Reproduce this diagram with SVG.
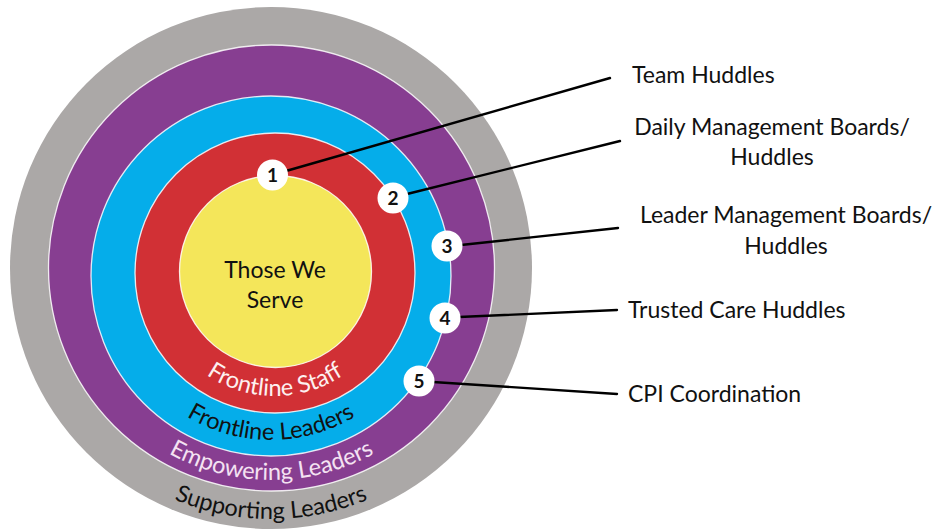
<svg xmlns="http://www.w3.org/2000/svg" width="940" height="531" viewBox="0 0 940 531">
  <style>
    .ring { stroke: #ffffff; stroke-width: 1.3; stroke-opacity: 0.85; }
    .label { font-family: Lato, "Open Sans", "Liberation Sans", sans-serif; font-size: 23px; fill: #111111; }
    .arc { font-family: Lato, "Open Sans", "Liberation Sans", sans-serif; font-size: 23.5px; }
    .num circle { fill: #ffffff; }
    .num text { font-family: Lato, "Liberation Sans", sans-serif; font-weight: 700; font-size: 19px; fill: #111111; text-anchor: middle; }
    .conn line { stroke: #000000; stroke-width: 2.4; stroke-linecap: round; }
  </style>
  <defs>
    <path id="arc-staff" d="M152,273 A123,123 0 0 0 398,273"/>
    <path id="arc-frontline" d="M107,276 A164,164 0 0 0 435,276"/>
    <path id="arc-empowering" d="M59.5,268 A212,212 0 0 0 483.5,268"/>
    <path id="arc-supporting" d="M20,268 A251,251 0 0 0 522,268"/>
  </defs>

  <rect width="940" height="531" fill="#ffffff"/>

  <!-- concentric rings, outermost first -->
  <g id="supporting-leaders">
    <circle cx="271" cy="268" r="261" fill="#aba8a7"/>
    <text class="arc" fill="#111111" text-anchor="middle"><textPath href="#arc-supporting" startOffset="50%">Supporting Leaders</textPath></text>
  </g>
  <g id="empowering-leaders">
    <circle class="ring" cx="271.5" cy="268" r="223" fill="#873e91"/>
    <text class="arc" fill="#f4e2f2" text-anchor="middle"><textPath href="#arc-empowering" startOffset="50%">Empowering Leaders</textPath></text>
  </g>
  <g id="frontline-leaders">
    <circle class="ring" cx="271" cy="276" r="180" fill="#05adea"/>
    <text class="arc" fill="#111111" text-anchor="middle"><textPath href="#arc-frontline" startOffset="50%">Frontline Leaders</textPath></text>
  </g>
  <g id="frontline-staff">
    <circle class="ring" cx="275" cy="273" r="140" fill="#d13035"/>
    <text class="arc" fill="#fdf0f0" text-anchor="middle"><textPath href="#arc-staff" startOffset="50%">Frontline Staff</textPath></text>
  </g>
  <g id="those-we-serve">
    <circle class="ring" cx="275.5" cy="271.5" r="96" fill="#f4e65a"/>
    <text class="label" x="275" y="278" text-anchor="middle">Those We</text>
    <text class="label" x="275" y="308" text-anchor="middle">Serve</text>
  </g>

  <!-- leader lines from the numbered markers to their labels -->
  <g id="connectors" class="conn">
    <line x1="286" y1="171" x2="610" y2="78"/>
    <line x1="407" y1="194" x2="620" y2="141"/>
    <line x1="461" y1="245" x2="618" y2="228"/>
    <line x1="459" y1="317" x2="617" y2="310"/>
    <line x1="433" y1="382" x2="617" y2="394"/>
  </g>

  <g id="marker-1" class="num"><circle cx="272.5" cy="175" r="15.5"/><text x="272.5" y="181.8">1</text></g>
  <g id="marker-2" class="num"><circle cx="393" cy="198" r="15.5"/><text x="393" y="204.8">2</text></g>
  <g id="marker-3" class="num"><circle cx="447" cy="246" r="15.5"/><text x="447" y="252.8">3</text></g>
  <g id="marker-4" class="num"><circle cx="445" cy="318" r="15.5"/><text x="445" y="324.8">4</text></g>
  <g id="marker-5" class="num"><circle cx="419" cy="381" r="15.5"/><text x="419" y="387.8">5</text></g>

  <g id="label-team-huddles"><text class="label" x="632" y="83">Team Huddles</text></g>
  <g id="label-daily-boards">
    <text class="label" x="772" y="135" text-anchor="middle">Daily Management Boards/</text>
    <text class="label" x="772" y="165" text-anchor="middle">Huddles</text>
  </g>
  <g id="label-leader-boards">
    <text class="label" x="786" y="223" text-anchor="middle">Leader Management Boards/</text>
    <text class="label" x="786" y="254" text-anchor="middle">Huddles</text>
  </g>
  <g id="label-trusted-care"><text class="label" x="628" y="318">Trusted Care Huddles</text></g>
  <g id="label-cpi"><text class="label" x="628" y="402">CPI Coordination</text></g>
</svg>
